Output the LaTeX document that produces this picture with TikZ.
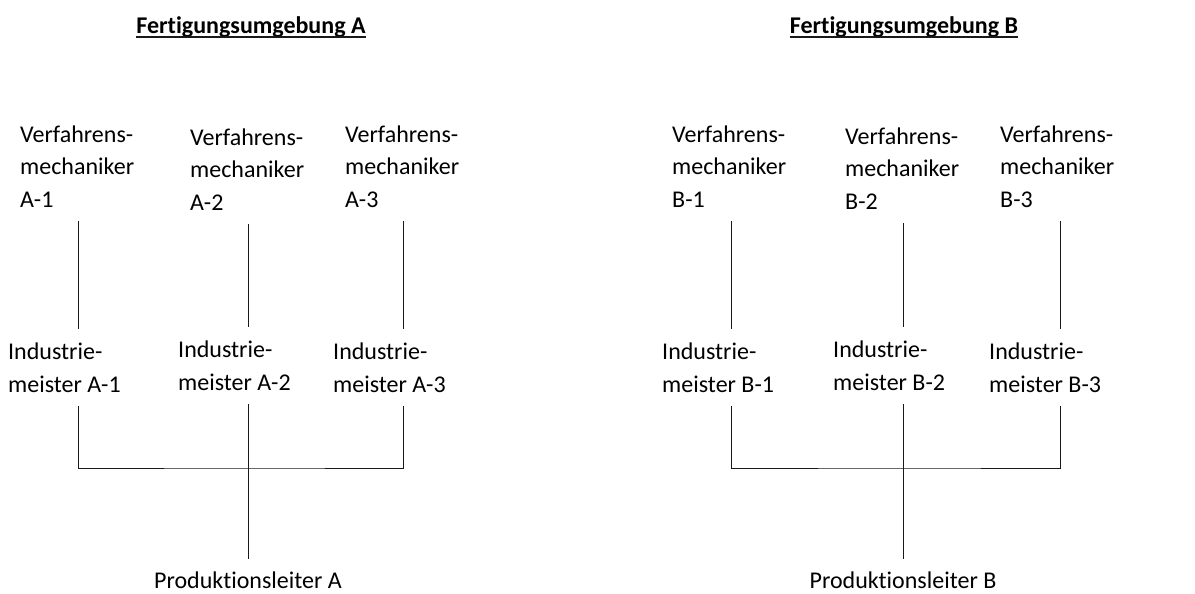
\documentclass[tikz,border=0pt]{standalone}
\usepackage{fontspec}
\setmainfont{Carlito}[Ligatures={NoCommon,NoRequired,NoContextual}]
\begin{document}
\begin{tikzpicture}[x=1pt,y=-1pt,
  txt/.style={font=\fontsize{24}{32.5}\selectfont, text=black, align=left,
    inner xsep=0pt, inner ysep=14pt, anchor=base west},
  head/.style={font=\fontsize{24}{28}\selectfont\bfseries, text=black,
    inner sep=0pt, anchor=base},
  boss/.style={font=\fontsize{24}{28}\selectfont, text=black,
    inner xsep=0pt, inner ysep=12pt, anchor=base},
  wire/.style={draw=black!90, line width=0.9pt},
  rule/.style={draw=black!90, line width=1.4pt}]
\useasboundingbox (0,0) rectangle (1195,594);

% headings
\node[head] (tA) at (251,33.5) {Fertigungsumgebung A};
\node[head] (tB) at (904,33.5) {Fertigungsumgebung B};
\draw[rule] ([yshift=-3.5pt]tA.base west) -- ([yshift=-3.5pt]tA.base east);
\draw[rule] ([yshift=-3.5pt]tB.base west) -- ([yshift=-3.5pt]tB.base east);

% column axes
\coordinate (cA1) at (78,0);
\coordinate (cA2) at (248,0);
\coordinate (cA3) at (403,0);
\coordinate (cB1) at (731,0);
\coordinate (cB2) at (903,0);
\coordinate (cB3) at (1060,0);
\coordinate (busA) at (248,468);
\coordinate (busB) at (903,468);

% process mechanics (positioned by the baseline of the last line)
\node[txt] (vA1) at (20,207)   {Verfahrens-\\mechaniker\\A-1};
\node[txt] (vA2) at (190,210)  {Verfahrens-\\mechaniker\\A-2};
\node[txt] (vA3) at (345,207)  {Verfahrens-\\mechaniker\\A-3};
\node[txt] (vB1) at (672,207)  {Verfahrens-\\mechaniker\\B-1};
\node[txt] (vB2) at (845,209)  {Verfahrens-\\mechaniker\\B-2};
\node[txt] (vB3) at (1000,207) {Verfahrens-\\mechaniker\\B-3};

% master craftsmen
\node[txt] (iA1) at (8,392)   {Industrie-\\meister A-1};
\node[txt] (iA2) at (178,390) {Industrie-\\meister A-2};
\node[txt] (iA3) at (333,392) {Industrie-\\meister A-3};
\node[txt] (iB1) at (662,392) {Industrie-\\meister B-1};
\node[txt] (iB2) at (833,390) {Industrie-\\meister B-2};
\node[txt] (iB3) at (989,392) {Industrie-\\meister B-3};

% production managers
\node[boss] (pA) at (248,588) {Produktionsleiter A};
\node[boss] (pB) at (903,588) {Produktionsleiter B};

% mechanic to master
\foreach \s/\c in {A1/cA1,A2/cA2,A3/cA3,B1/cB1,B2/cB2,B3/cB3}
  \draw[wire] (v\s.south -| \c) -- (i\s.north -| \c);

% masters to manager
\draw[wire] (iA1.south -| cA1) |- (busA) -| (iA3.south -| cA3);
\draw[wire] (iA2.south -| cA2) -- (pA.north -| cA2);
\draw[wire] (iB1.south -| cB1) |- (busB) -| (iB3.south -| cB3);
\draw[wire] (iB2.south -| cB2) -- (pB.north -| cB2);
\end{tikzpicture}
\end{document}
